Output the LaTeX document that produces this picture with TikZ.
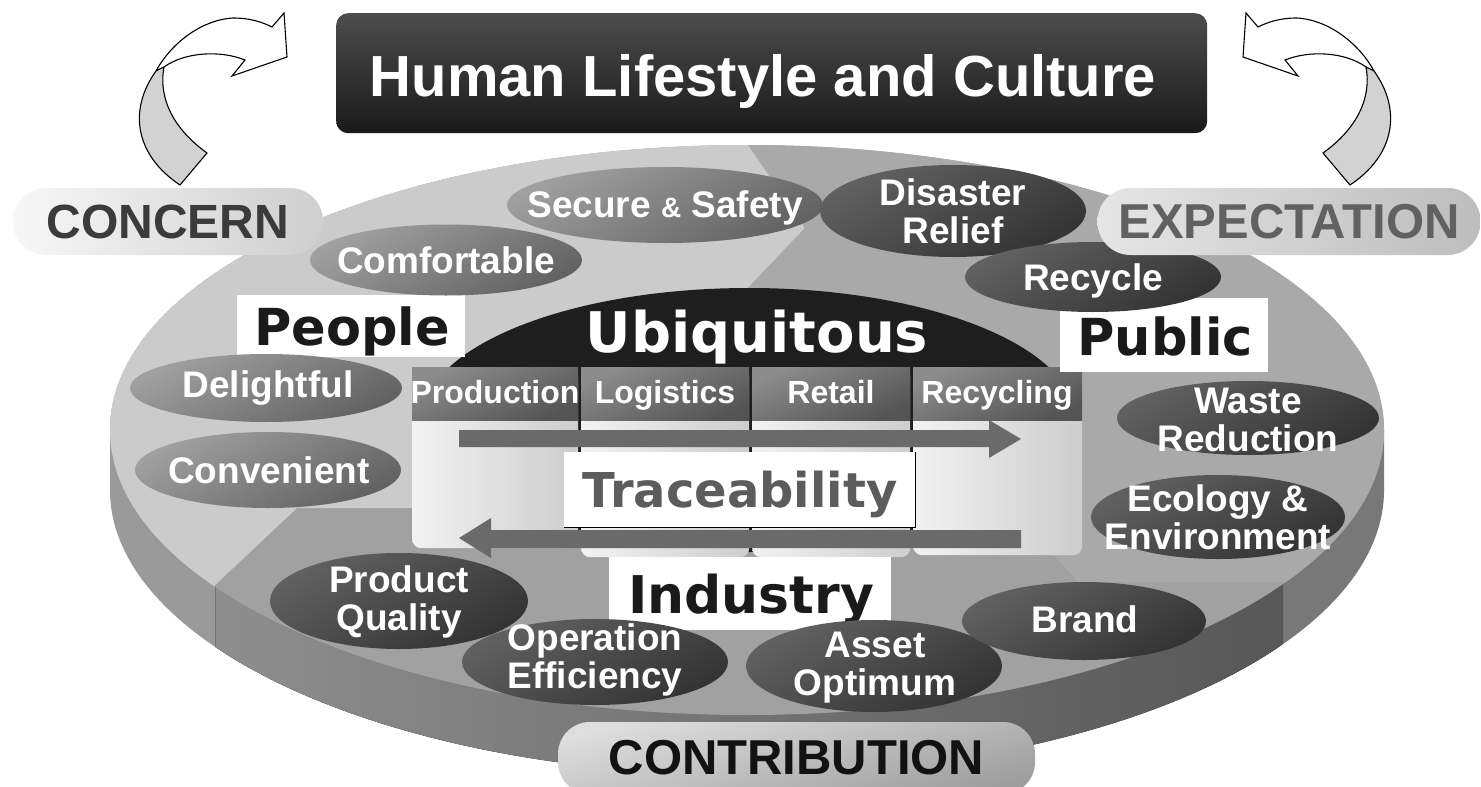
\documentclass[tikz,border=0pt]{standalone}
\usepackage{fontspec}
\setmainfont{Liberation Sans}
\newfontfamily\dvs{DejaVu Sans}
\usetikzlibrary{shapes.geometric}
\definecolor{peoC}{HTML}{CBCBCB}
\definecolor{pubC}{HTML}{A9A9A9}
\definecolor{indC}{HTML}{A1A1A1}
\definecolor{sideL}{HTML}{9A9A9A}
\definecolor{sideMa}{HTML}{8E8E8E}
\definecolor{sideMb}{HTML}{575757}
\definecolor{sideR}{HTML}{787878}
\definecolor{domeC}{HTML}{1E1E1E}
\definecolor{arrowC}{HTML}{6A6A6A}
\definecolor{traceT}{HTML}{5C5C5C}
\definecolor{secT}{HTML}{1A1A1A}
\definecolor{arrG}{HTML}{D2D2D2}
\definecolor{ovMa}{HTML}{A0A0A0}
\definecolor{ovMb}{HTML}{626262}
\definecolor{ovDa}{HTML}{616161}
\definecolor{ovDb}{HTML}{333333}
\definecolor{hdA}{HTML}{8C8C8C}
\definecolor{hdB}{HTML}{545454}
\definecolor{pnA}{HTML}{F2F2F2}
\definecolor{pnB}{HTML}{CDCDCD}
\newcommand\setfs[2]{\fontsize{#1}{#2}\selectfont}
\newcommand\mySideFill{%
  \fill[sideL] (90,400) rectangle (215,800);
  \fill[left color=sideMa,right color=sideMb] (215,400) rectangle (1283,800);
  \fill[sideR] (1283,400) rectangle (1400,800);}
\newcommand\myCurvArrow{%
  \filldraw[fill=white,draw=black,line width=1.1pt,line join=miter]
    (156,71) .. controls (170,45) and (200,20) .. (233,18)
    .. controls (250,18) and (262,22) .. (272,27) -- (284,13) -- (287,57)
    -- (232,76) -- (245,60) .. controls (220,50) and (185,52) .. (164,67) -- cycle;
  \filldraw[fill=arrG,draw=black,line width=1.1pt,line join=miter]
    (156,71) .. controls (128,110) and (135,155) .. (180,185) -- (207,153)
    .. controls (175,130) and (158,100) .. (164,67) -- cycle;}
\begin{document}
\begin{tikzpicture}[x=1pt,y=-1pt,
  oval/.style={ellipse,inner sep=0pt,draw=none},
  ovM/.style={oval,top color=ovMa,bottom color=ovMb,shading angle=30},
  ovD/.style={oval,top color=ovDa,bottom color=ovDb,shading angle=30},
  lbl/.style={text=white,font=\bfseries\setfs{37}{38},inner sep=0pt,align=center},
  hdr/.style={text=white,font=\bfseries\setfs{32}{34},inner sep=0pt},
  sect/.style={text=secT,font=\dvs\bfseries\setfs{51}{52},inner sep=0pt},
  wbox/.style={rectangle,fill=white,draw=none,inner sep=0pt},
  hcell/.style={rectangle,inner sep=0pt,top color=hdA,bottom color=hdB,shading angle=25},
  panel/.style={rectangle,inner sep=0pt,rounded corners=9pt,left color=pnA,right color=pnB},
  pill/.style={rectangle,rounded corners=33pt,inner sep=0pt,minimum height=67pt,font=\bfseries}]
\fill[white] (0,0) rectangle (1481,787);
\useasboundingbox (0,0) rectangle (1481,787);
% ---- disk side
\begin{scope}
  \clip (747,490) ellipse [x radius=637pt, y radius=285pt];
  \mySideFill
\end{scope}
\begin{scope}
  \clip (110,430) rectangle (1384,490);
  \mySideFill
\end{scope}
\draw[line width=0.6pt,black!55] (215,585) -- (215,647);
\draw[line width=0.6pt,black!55] (1283,584) -- (1283,644);
% ---- disk top with three sectors
\fill[indC] (747,430) ellipse [x radius=637pt, y radius=285pt];
\begin{scope}
  \clip (747,430) ellipse [x radius=637pt, y radius=285pt];
  \fill[peoC] (738,130) -- (805,228) -- (748,288) -- (700,508) -- (297,508)
    -- (178,620) -- (90,620) -- (90,130) -- cycle;
  \fill[pubC] (738,130) -- (805,228) -- (748,288) -- (1040,540) -- (1078,582)
    -- (1400,582) -- (1400,130) -- cycle;
\end{scope}
% ---- ubiquitous dome
\fill[domeC] (749,420) ellipse [x radius=327pt, y radius=132pt];
% ---- columns
\node[panel,minimum width=166pt,minimum height=181pt,anchor=north west] (p1) at (412,367) {};
\node[panel,minimum width=168pt,minimum height=190pt,anchor=north west] (p2) at (581,367) {};
\node[panel,minimum width=158pt,minimum height=190pt,anchor=north west] (p3) at (752,367) {};
\node[panel,minimum width=169pt,minimum height=188pt,anchor=north west] (p4) at (913,367) {};
\node[hcell,minimum width=166pt,minimum height=53pt,anchor=north west] (h1) at (412,367) {};
\node[hcell,minimum width=168pt,minimum height=53pt,anchor=north west] (h2) at (581,367) {};
\node[hcell,minimum width=158pt,minimum height=53pt,anchor=north west] (h3) at (752,367) {};
\node[hcell,minimum width=169pt,minimum height=53pt,anchor=north west] (h4) at (913,367) {};
\node[hdr,anchor=base] (h1t) at (495,403) {Production};
\node[hdr,anchor=base] (h2t) at (665,403) {Logistics};
\node[hdr,anchor=base] (h3t) at (831,403) {Retail};
\node[hdr,anchor=base] (h4t) at (997,403) {Recycling};
% ---- flow arrows
\fill[arrowC] (459,430) -- (989,430) -- (989,420) -- (1021,439) -- (989,458)
  -- (989,447) -- (459,447) -- cycle;
\fill[arrowC] (1021,530) -- (491,530) -- (491,518) -- (459,538) -- (491,558)
  -- (491,548) -- (1021,548) -- cycle;
% ---- traceability
\node[wbox,minimum width=351pt,minimum height=75pt,anchor=north west] (tbox) at (564,452) {};
\draw[line width=1.3pt] (tbox.north east) -- (tbox.south east) -- (tbox.south west);
\node[anchor=base,text=traceT,font=\dvs\bfseries\setfs{48}{50},inner sep=0pt] (tracet) at (740,507) {Traceability};
% ---- sector labels
\node[wbox,minimum width=228pt,minimum height=62pt,anchor=north west] (peobox) at (237,295) {};
\node[sect,anchor=base] (peot) at (352,345) {People};
\node[wbox,minimum width=208pt,minimum height=74pt,anchor=north west] (pubbox) at (1060,298) {};
\node[sect,anchor=base] (pubt) at (1165,355) {Public};
\node[wbox,minimum width=282pt,minimum height=73pt,anchor=north west] (indbox) at (609,557) {};
\node[sect,anchor=base,font=\dvs\bfseries\setfs{52}{54}] (indt) at (751,613) {Industry};
% ---- Ubiquitous
\node[anchor=base,text=white,font=\dvs\bfseries\setfs{56}{58},inner sep=0pt] (ubit) at (757,352) {Ubiquitous};
% ---- ellipses
\node[ovM,minimum width=316pt,minimum height=76pt] (secure) at (665,205) {};
\node[ovM,minimum width=272pt,minimum height=71pt] (comf) at (446,260) {};
\node[ovM,minimum width=272pt,minimum height=68pt] (deli) at (266,388) {};
\node[ovM,minimum width=266pt,minimum height=76pt] (conv) at (268,470) {};
\node[ovD,minimum width=266pt,minimum height=92pt] (disa) at (953,211) {};
\node[ovD,minimum width=256pt,minimum height=70pt] (recy) at (1093,277) {};
\node[ovD,minimum width=262pt,minimum height=74pt] (waste) at (1248,418) {};
\node[ovD,minimum width=254pt,minimum height=84pt] (eco) at (1218,517) {};
\node[ovD,minimum width=258pt,minimum height=96pt] (prod) at (399,601) {};
\node[ovD,minimum width=266pt,minimum height=86pt] (oper) at (595,662) {};
\node[ovD,minimum width=256pt,minimum height=92pt] (asset) at (874,666) {};
\node[ovD,minimum width=244pt,minimum height=78pt] (brand) at (1084,621) {};
% ---- ellipse labels (anchor base = last line)
\node[lbl,anchor=base] (securet) at (665,217) {Secure {\setfs{28}{28}\&} Safety};
\node[lbl,anchor=base] (comft) at (446,273) {Comfortable};
\node[lbl,anchor=base] (delit) at (268,397) {Delightful};
\node[lbl,anchor=base] (convt) at (269,483) {Convenient};
\node[lbl,anchor=base] (disat) at (953,243) {Disaster\\Relief};
\node[lbl,anchor=base] (recyt) at (1093,290) {Recycle};
\node[lbl,anchor=base] (wastet) at (1248,451) {Waste\\Reduction};
\node[lbl,anchor=base] (ecot) at (1218,549) {Ecology \&\\Environment};
\node[lbl,anchor=base] (prodt) at (399,630) {Product\\Quality};
\node[lbl,anchor=base] (opert) at (595,688) {Operation\\Efficiency};
\node[lbl,anchor=base] (assett) at (875,695) {Asset\\Optimum};
\node[lbl,anchor=base] (brandt) at (1085,632) {Brand};
% ---- curved arrows
\myCurvArrow
\begin{scope}[shift={(1530,0)},xscale=-1]
  \myCurvArrow
\end{scope}
% ---- title
\node[rectangle,rounded corners=12pt,minimum width=871pt,minimum height=120pt,
  top color=black!70,bottom color=black!90,anchor=north west,inner sep=0pt] (title) at (336,13) {};
\node[anchor=base,text=white,font=\bfseries\setfs{58}{60},inner sep=0pt] (titlet) at (763,96) {Human Lifestyle and Culture};
% ---- pills
\node[pill,minimum width=310pt,left color=black!3,right color=black!19,
  text=black!77,font=\bfseries\setfs{48}{50}] (concern) at (168,221.5) {CONCERN};
\node[pill,minimum width=383pt,left color=black!10,right color=black!26,
  text=black!62,font=\bfseries\setfs{49}{51}] (expect) at (1289,221.5) {EXPECTATION};
\node[pill,minimum width=477pt,minimum height=72pt,rounded corners=32pt,
  top color=black!13,bottom color=black!38,shading angle=15,
  text=black!93,font=\bfseries\setfs{49}{51}] (contrib) at (796.5,758) {CONTRIBUTION};
\end{tikzpicture}
\end{document}
